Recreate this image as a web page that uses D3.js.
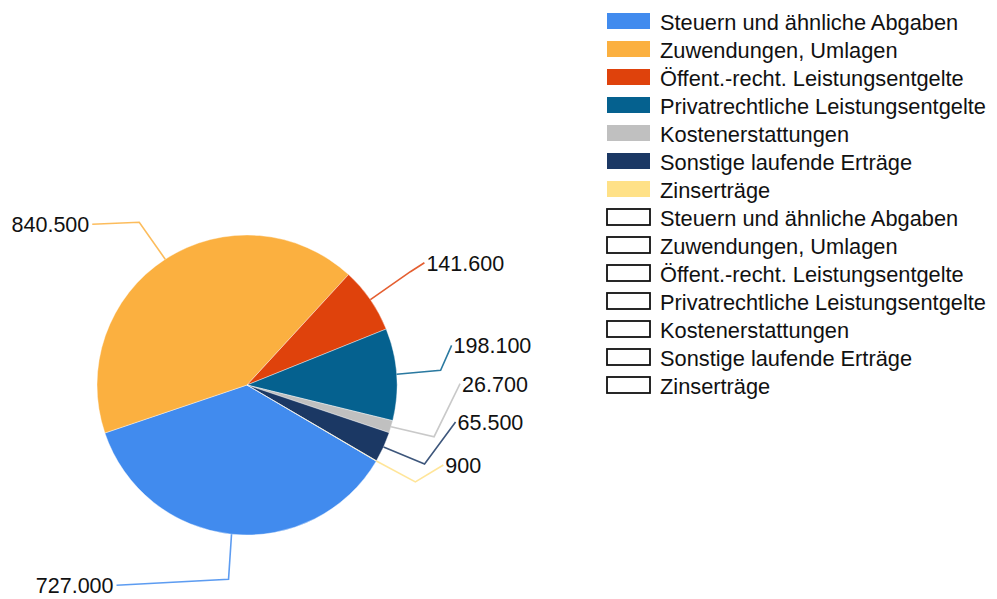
<!DOCTYPE html>
<html><head><meta charset="utf-8">
<script src="https://cdn.jsdelivr.net/npm/d3@7"></script>
<style>body{margin:0;background:#fff}svg{display:block}</style>
</head><body>
<svg id="chart" width="997" height="599"></svg>
<script>
const categories = ["Steuern und ähnliche Abgaben","Zuwendungen, Umlagen","Öffent.-recht. Leistungsentgelte","Privatrechtliche Leistungsentgelte","Kostenerstattungen","Sonstige laufende Erträge","Zinserträge"];
const values = [727000, 840500, 141600, 198100, 26700, 65500, 900];
const colors = ["#418BEE","#FBB040","#DF420C","#05618F","#C0C0C0","#1B3864","#FFE187"];
// label leader layout (offsets from slice edge point): elbow and end
const labelLayout = [
  {elbow:[-3,45], end:[-115,51], anchor:"end"},
  {elbow:[-26,-37], end:[-73,-35], anchor:"end"},
  {elbow:[40,-28], end:[54,-37], anchor:"start"},
  {elbow:[44,-4], end:[55,-29], anchor:"start"},
  {elbow:[43,10], end:[69,-43], anchor:"start"},
  {elbow:[41,17], end:[72,-25], anchor:"start"},
  {elbow:[39,21], end:[67,4], anchor:"start"}
];

const svg = d3.select("#chart");
const cx = 247, cy = 385, r = 150;
const fmt = d3.formatLocale({decimal:",", thousands:".", grouping:[3], currency:["","€"]}).format(",");

const data = categories.map((c,i)=>({name:c, value:values[i], color:colors[i], layout:labelLayout[i]}));
const pie = d3.pie().value(d=>d.value).sort(null)
  .startAngle(120.5*Math.PI/180).endAngle(120.5*Math.PI/180 + 2*Math.PI);
const arcs = pie(data);
const arc = d3.arc().innerRadius(0).outerRadius(r);
const edge = d3.arc().innerRadius(r).outerRadius(r);

const g = svg.append("g").attr("transform", `translate(${cx},${cy})`);
g.selectAll("path.slice").data(arcs).join("path")
  .attr("class","slice")
  .attr("d", arc)
  .attr("fill", d=>d.data.color)
  .attr("stroke", "#fff").attr("stroke-width", 0.4);

const fontFam = "'Liberation Sans', Arial, sans-serif";
arcs.forEach(a=>{
  const s = edge.centroid(a);
  const L = a.data.layout;
  const e1 = [s[0]+L.elbow[0], s[1]+L.elbow[1]];
  const e2 = [s[0]+L.end[0], s[1]+L.end[1]];
  g.append("path")
    .attr("d", d3.line()([s, e1, e2]))
    .attr("fill","none")
    .attr("stroke", a.data.color)
    .attr("stroke-width", 1.6)
    .attr("stroke-opacity", 0.85);
  g.append("text")
    .attr("x", e2[0] + (L.anchor==="end" ? -3 : 2))
    .attr("y", e2[1] + 8)
    .attr("text-anchor", L.anchor)
    .attr("font-family", fontFam)
    .attr("font-size", "21.5px")
    .attr("fill", "#111")
    .text(fmt(a.data.value));
});

// legend: filled entries then outlined entries
const legendItems = data.map(d=>({name:d.name, fill:d.color, outline:false}))
  .concat(data.map(d=>({name:d.name, fill:"#fff", outline:true})));
const lg = svg.append("g");
const rows = lg.selectAll("g").data(legendItems).join("g")
  .attr("transform", (d,i)=>`translate(607,${13 + i*28})`);
rows.append("rect")
  .attr("width", 43).attr("height", 16)
  .attr("fill", d=>d.fill)
  .attr("stroke", d=>d.outline ? "#111" : "none")
  .attr("stroke-width", 1.8);
rows.append("text")
  .attr("x", 53).attr("y", 17)
  .attr("font-family", fontFam)
  .attr("font-size", "21.8px")
  .attr("fill", "#111")
  .text(d=>d.name);
</script>
</body></html>
